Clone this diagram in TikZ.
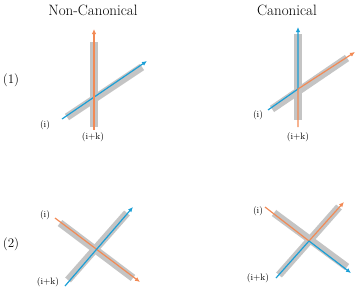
\documentclass[tikz,border=0pt]{standalone}
\usepackage{tikz}
\usetikzlibrary{arrows.meta,positioning}
\definecolor{StrandOrange}{HTML}{F28A55}
\definecolor{StrandBlue}{HTML}{1A9FD6}
\definecolor{BarGray}{HTML}{C4C4C4}

\begin{document}
\begin{tikzpicture}[x=1pt,y=-1pt,every node/.style={inner sep=0pt},title/.style={font=\fontsize{15}{18}\selectfont},rowlab/.style={font=\fontsize{13}{15}\selectfont},strandlab/.style={font=\fontsize{9.2}{11}\selectfont},bar/.style={line width=7.5pt,BarGray},orangearrow/.style={-{Latex[length=5pt,width=4.5pt]},line width=1.2pt,StrandOrange,line join=round},bluearrow/.style={-{Latex[length=5pt,width=4.5pt]},line width=1.2pt,StrandBlue,line join=round}]
\useasboundingbox (0,0) rectangle (357,289);
\node[title] (noncan) at (93,10) {Non-Canonical};
\node[title] (can) at (287,10) {Canonical};
\node[rowlab] (row1) at (11,80) {(1)};
\node[rowlab] (row2) at (11,244) {(2)};
\coordinate (nc1-vb) at (94,42);\coordinate (nc1-vt) at (94,127);
\coordinate (nc1-db) at (67,117);\coordinate (nc1-dt) at (142,67);
\coordinate (nc1-i) at (62,119);\coordinate (nc1-itip) at (147,61);
\coordinate (nc1-k) at (94,130);\coordinate (nc1-ktip) at (94,29);
\draw[bar] (nc1-vb)--(nc1-vt);\draw[bar] (nc1-db)--(nc1-dt);
\draw[bluearrow] (nc1-i)--(nc1-itip);\draw[orangearrow] (nc1-k)--(nc1-ktip);
\node[strandlab] (nc1-il) at (45,125) {(i)};
\node[strandlab] (nc1-kl) at (93,137) {(i+k)};
\coordinate (c1-vb) at (298,34);\coordinate (c1-vt) at (298,120);
\coordinate (c1-db) at (272,109);\coordinate (c1-dt) at (347,58);
\coordinate (c1-x) at (298,89);
\coordinate (c1-i) at (268,110);\coordinate (c1-itip) at (298,27);
\coordinate (c1-k) at (298,127);\coordinate (c1-ktip) at (355,52);
\draw[bar] (c1-vb)--(c1-vt);\draw[bar] (c1-db)--(c1-dt);
\draw[bluearrow] (c1-i)--(c1-x)--(c1-itip);\draw[orangearrow] (c1-k)--(c1-x)--(c1-ktip);
\node[strandlab] (c1-il) at (258,115) {(i)};
\node[strandlab] (c1-kl) at (298,137) {(i+k)};
\coordinate (nc2-ab) at (60,223);\coordinate (nc2-at) at (133,278);
\coordinate (nc2-bb) at (68,280);\coordinate (nc2-bt) at (127,213);
\coordinate (nc2-i) at (55,218);\coordinate (nc2-itip) at (140,282);
\coordinate (nc2-k) at (65,286);\coordinate (nc2-ktip) at (133,207);
\draw[bar] (nc2-ab)--(nc2-at);\draw[bar] (nc2-bb)--(nc2-bt);
\draw[orangearrow] (nc2-i)--(nc2-itip);\draw[bluearrow] (nc2-k)--(nc2-ktip);
\node[strandlab] (nc2-il) at (45,215) {(i)};
\node[strandlab] (nc2-kl) at (48,282) {(i+k)};
\coordinate (c2-ab) at (274,213);\coordinate (c2-at) at (347,267);
\coordinate (c2-bb) at (279,275);\coordinate (c2-bt) at (339,207);
\coordinate (c2-x) at (309,241);
\coordinate (c2-i) at (265,207);\coordinate (c2-itip) at (344,202);
\coordinate (c2-k) at (276,278);\coordinate (c2-ktip) at (351,273);
\draw[bar] (c2-ab)--(c2-at);\draw[bar] (c2-bb)--(c2-bt);
\draw[orangearrow] (c2-i)--(c2-x)--(c2-itip);\draw[bluearrow] (c2-k)--(c2-x)--(c2-ktip);
\node[strandlab] (c2-il) at (258,211) {(i)};
\node[strandlab] (c2-kl) at (258,278) {(i+k)};
\end{tikzpicture}
\end{document}
